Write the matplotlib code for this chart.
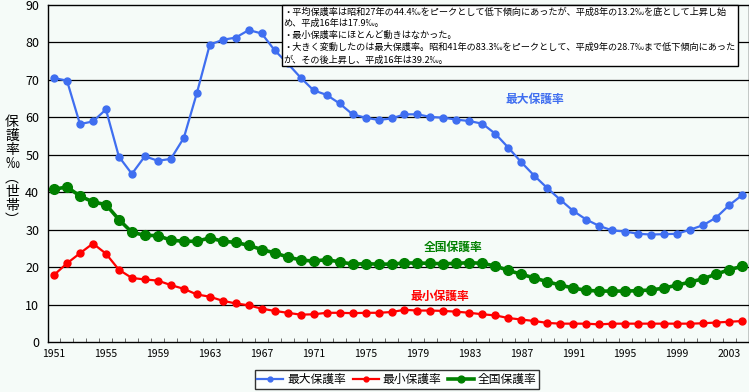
import numpy as np
import matplotlib
matplotlib.use("Agg")
import matplotlib.pyplot as plt

plt.rcParams['font.family'] = ['Noto Sans CJK JP', 'DejaVu Sans']

# data (per mille, households)
years = list(range(1951, 2005))
max_rate = [70.5, 69.8, 58.2, 58.9, 62.1, 49.5, 44.9, 49.6, 48.4, 48.9,
            54.5, 66.4, 79.4, 80.7, 81.3, 83.3, 82.4, 77.9, 74.4, 70.6,
            67.2, 66.0, 63.7, 60.8, 59.9, 59.3, 59.7, 60.8, 60.8, 60.1,
            59.9, 59.4, 59.0, 58.3, 55.6, 51.9, 48.0, 44.4, 41.1, 38.0,
            35.0, 32.7, 31.0, 29.8, 29.5, 28.9, 28.7, 28.8, 28.9, 30.0,
            31.2, 33.2, 36.5, 39.2]
min_rate = [17.9, 21.0, 23.7, 26.3, 23.6, 19.3, 17.1, 16.7, 16.4, 15.2,
            14.2, 12.7, 12.1, 11.0, 10.3, 9.8, 8.9, 8.3, 7.8, 7.3,
            7.4, 7.8, 7.8, 7.7, 7.8, 7.8, 8.0, 8.6, 8.4, 8.4,
            8.3, 8.1, 7.8, 7.4, 7.1, 6.4, 6.0, 5.6, 5.1, 4.9,
            4.9, 4.9, 4.7, 4.9, 4.9, 4.9, 4.9, 4.9, 4.9, 4.9,
            5.0, 5.2, 5.4, 5.6]
nat_rate = [40.8, 41.4, 39.0, 37.4, 36.7, 32.7, 29.3, 28.5, 28.4, 27.2,
            26.9, 26.9, 27.8, 26.9, 26.6, 25.8, 24.7, 23.8, 22.7, 21.9,
            21.6, 22.0, 21.4, 20.8, 20.9, 20.8, 20.8, 21.1, 21.1, 21.0,
            20.9, 21.0, 21.2, 21.0, 20.3, 19.1, 18.1, 17.1, 16.1, 15.2,
            14.4, 13.8, 13.6, 13.6, 13.6, 13.7, 13.9, 14.4, 15.2, 16.0,
            16.9, 18.1, 19.3, 20.2]
year_labels = [str(y) for y in years[::4]]
ylabel_chars = ["保", "護", "率", "‰", "︵", "世", "帯", "︶"]
note_lines = [
    "・平均保護率は昭和27年の44.4‰をピークとして低下傾向にあったが、平成8年の13.2‰を底として上昇し始",
    "め、平成16年は17.9‰。",
    "・最小保護率にほとんど動きはなかった。",
    "・大きく変動したのは最大保護率。昭和41年の83.3‰をピークとして、平成9年の28.7‰まで低下傾向にあった",
    "が、その後上昇し、平成16年は39.2‰。",
]

bg = '#f5fbf8'
blue = '#3f6ef0'
red = '#ff0000'
green = '#008000'

fig = plt.figure(figsize=(7.49, 3.92), dpi=100, facecolor=bg)
ax = fig.add_axes([47.5 / 749, 1 - 342 / 392, 701 / 749, 337 / 392])
ax.set_facecolor(bg)

x = np.arange(len(years))
ax.plot(x, max_rate, color=blue, lw=1.6, marker='o', ms=5, label='最大保護率')
ax.plot(x, min_rate, color=red, lw=1.6, marker='o', ms=5, label='最小保護率')
ax.plot(x, nat_rate, color=green, lw=2.6, marker='o', ms=7, label='全国保護率')

ax.set_xlim(-0.5, len(years) - 0.5)
ax.set_ylim(0, 90)
ax.set_yticks(range(0, 91, 10))
for v in range(10, 90, 10):
    ax.axhline(v, color='black', lw=0.9, zorder=0)
ax.tick_params(axis='y', length=0, labelsize=9, pad=6)
ax.set_xticks(x[::4])
ax.set_xticklabels(year_labels, fontsize=7.5)
ax.tick_params(axis='x', length=0, pad=5)
ax.set_xticks(np.arange(len(years) + 1) - 0.5, minor=True)
ax.tick_params(axis='x', which='minor', direction='in', length=3, color='#555555')
for s in ax.spines.values():
    s.set_color('black')
    s.set_linewidth(1)

# vertical axis title, one character per row
for i, ch in enumerate(ylabel_chars):
    fig.text(12 / 749, 1 - (122 + i * 14) / 392, ch, ha='center', va='center', fontsize=10)

ax.text(0.695, 0.71, '最大保護率', transform=ax.transAxes, color=blue, fontsize=8.5,
        fontweight='bold', ha='center')
ax.text(0.578, 0.27, '全国保護率', transform=ax.transAxes, color=green, fontsize=8.5,
        fontweight='bold', ha='center')
ax.text(0.56, 0.125, '最小保護率', transform=ax.transAxes, color=red, fontsize=8.5,
        fontweight='bold', ha='center')

ax.text(0.337, 0.994, "\n".join(note_lines), transform=ax.transAxes, fontsize=6.6,
        va='top', ha='left', linespacing=1.4,
        bbox=dict(boxstyle='square,pad=0.2', facecolor='white', edgecolor='black', lw=1))

leg = fig.legend(loc='lower center', bbox_to_anchor=(0.53, -0.008), ncol=3, fontsize=8.5,
                 frameon=True, fancybox=False, edgecolor='black', handlelength=2.2,
                 handletextpad=0.3, columnspacing=0.6, borderpad=0.25, markerscale=0.7)
leg.get_frame().set_linewidth(1)
leg.get_frame().set_facecolor('white')

fig.savefig('out.png', dpi=100, facecolor=bg)
